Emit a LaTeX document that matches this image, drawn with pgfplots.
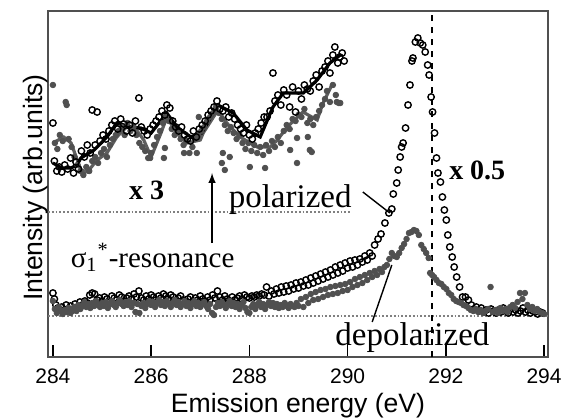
\documentclass[border=0pt]{standalone}
\usepackage{fontspec}
\setmainfont{Liberation Serif}
\newfontfamily\arialfont{Liberation Sans}
\usepackage{pgfplots}
\pgfplotsset{compat=1.18}
\definecolor{dgray}{HTML}{505050}
\definecolor{lgray}{HTML}{5E5E5E}

\begin{document}
\begin{tikzpicture}
\begin{axis}[
    scale only axis,
    width=250pt, height=173pt,
    xmin=283.9, xmax=294.08,
    ymin=0, ymax=346,
    xtick={284,286,288,290,292,294},
    ytick=\empty,
    xtick pos=bottom,
    tick align=inside,
    major tick length=6pt,
    tick style={line width=0.8pt, black},
    axis line style={line width=1pt, dgray},
    /pgf/number format/assume math mode=true,
    xticklabel style={font=\arialfont\fontsize{10.5}{12}\selectfont, inner sep=0pt, yshift=-5.5pt},
    xlabel={Emission energy (eV)},
    ylabel={Intensity (arb.units)},
    label style={font=\arialfont\fontsize{13.3}{15}\selectfont, inner sep=0pt},
    xlabel style={at={(axis description cs:0.5,0)}, anchor=north, yshift=-18pt},
    ylabel style={at={(axis description cs:0,0.5)}, anchor=south, xshift=-1.7pt},
    clip=false,
]
% reference lines
\addplot[densely dotted, line width=0.9pt, gray] coordinates {(283.9,41)(294.08,41)};
\addplot[densely dotted, line width=0.9pt, gray] coordinates {(283.9,145)(290.05,145)};
\addplot[dashed, line width=0.7pt, black] coordinates {(291.72,0)(291.72,346)};

% lower spectrum, polarized (open circles)
\addplot[only marks, mark=o, mark size=1.6pt, mark options={fill=white, line width=0.7pt}, black] coordinates {
(284.00,64)(284.03,58)(284.06,52)(284.10,49)(284.14,47)(284.18,50)(284.22,46)(284.27,52)(284.31,48)(284.36,51)
(284.40,47)(284.45,53)(284.50,50)(284.55,55)(284.60,52)(284.65,56)(284.70,54)(284.75,62)(284.80,64)(284.85,63)
(284.90,57)(284.95,59)(285.00,56)(285.05,60)(285.10,58)(285.15,55)(285.20,61)(285.25,59)(285.30,57)(285.35,62)
(285.40,60)(285.45,56)(285.50,59)(285.55,61)(285.60,58)(285.65,63)(285.70,60)(285.75,66)(285.80,59)(285.85,57)
(285.90,61)(285.95,58)(286.00,62)(286.05,60)(286.10,57)(286.15,61)(286.20,59)(286.25,63)(286.30,61)(286.35,58)
(286.40,62)(286.45,60)(286.50,56)(286.55,59)(286.60,61)(286.65,57)(286.70,55)(286.75,58)(286.80,60)(286.85,56)
(286.90,59)(286.95,57)(287.00,61)(287.05,58)(287.10,56)(287.15,60)(287.20,57)(287.25,62)(287.30,59)(287.35,66)
(287.40,60)(287.45,57)(287.50,61)(287.55,58)(287.60,56)(287.65,60)(287.70,57)(287.75,59)(287.80,61)(287.85,58)
(287.90,62)(287.95,60)(288.00,59)(288.05,61)(288.10,60)(288.15,62)(288.20,61)(288.25,63)(288.30,62)(288.35,70)
(288.40,61)(288.45,66)(288.50,63)(288.55,68)(288.60,64)(288.65,70)(288.70,65)(288.75,71)(288.80,66)(288.85,72)
(288.90,68)(288.95,74)(289.00,69)(289.05,75)(289.10,71)(289.15,77)(289.20,72)(289.25,79)(289.30,74)(289.35,81)
(289.40,76)(289.45,83)(289.50,78)(289.55,85)(289.60,80)(289.65,87)(289.70,82)(289.75,90)(289.80,84)(289.85,92)
(289.90,86)(289.95,94)(290.00,89)(290.05,96)(290.10,90)(290.15,97)(290.20,92)(290.25,98)(290.30,95)(290.35,101)
(290.40,97)(290.45,104)(290.50,101)(290.55,112)(290.62,118)(290.68,123)(290.76,134)(290.84,144)(290.90,148)(290.93,163)
(291.00,174)(291.03,187)(291.07,200)(291.10,210)(291.13,214)(291.18,229)(291.23,252)(291.27,272)(291.31,296)(291.33,299)
(291.38,315)(291.43,319)(291.48,314)(291.53,312)(291.58,305)(291.63,292)(291.66,282)(291.70,260)(291.73,245)(291.77,224)
(291.81,199)(291.84,184)(291.89,175)(291.93,160)(291.97,147)(292.01,137)(292.04,122)(292.08,110)(292.13,100)(292.17,90)
(292.22,80)(292.28,70)(292.34,60)(292.40,60)(292.46,57)(292.52,52)(292.57,48)(292.62,50)(292.67,46)(292.72,49)
(292.77,45)(292.82,47)(292.87,44)(292.92,48)(292.97,46)(293.02,44)(293.07,47)(293.12,45)(293.17,49)(293.22,46)
(293.27,44)(293.32,48)(293.37,45)(293.42,47)(293.47,44)(293.52,46)(293.57,49)(293.62,45)(293.67,47)(293.72,44)
(293.77,46)(293.82,45)(293.87,43)(293.92,45)(293.97,44)
};

% lower spectrum, depolarized (grey dots)
\addplot[only marks, mark=*, mark size=1.4pt, dgray] coordinates {
(284.00,56)(284.04,48)(284.08,44)(284.12,50)(284.16,46)(284.20,43)(284.24,47)(284.28,45)(284.32,49)(284.36,44)
(284.40,47)(284.44,50)(284.48,46)(284.52,52)(284.56,48)(284.60,51)(284.64,55)(284.68,50)(284.72,53)(284.76,49)
(284.80,54)(284.84,51)(284.88,56)(284.92,52)(284.96,50)(285.00,54)(285.04,51)(285.08,55)(285.12,49)(285.16,53)
(285.20,56)(285.24,52)(285.28,50)(285.32,54)(285.36,57)(285.40,53)(285.44,51)(285.48,55)(285.52,52)(285.56,56)
(285.60,50)(285.64,54)(285.68,45)(285.72,53)(285.76,44)(285.80,51)(285.84,54)(285.88,49)(285.92,53)(285.96,56)
(286.00,52)(286.04,55)(286.08,50)(286.12,54)(286.16,57)(286.20,52)(286.24,55)(286.28,51)(286.32,56)(286.36,53)
(286.40,50)(286.44,54)(286.48,57)(286.52,52)(286.56,55)(286.60,50)(286.64,53)(286.68,56)(286.72,51)(286.76,54)
(286.80,49)(286.84,53)(286.88,56)(286.92,51)(286.96,54)(287.00,50)(287.04,53)(287.08,55)(287.12,51)(287.16,48)
(287.20,53)(287.24,44)(287.28,42)(287.32,50)(287.36,54)(287.40,51)(287.44,55)(287.48,52)(287.52,49)(287.56,53)
(287.60,56)(287.64,51)(287.68,54)(287.72,50)(287.76,53)(287.80,48)(287.84,52)(287.88,55)(287.92,49)(287.96,45)
(288.00,44)(288.04,50)(288.08,53)(288.12,48)(288.16,52)(288.20,55)(288.24,50)(288.28,53)(288.32,48)(288.36,52)
(288.40,55)(288.44,51)(288.48,54)(288.52,50)(288.56,53)(288.60,49)(288.64,52)(288.68,50)(288.72,54)(288.76,51)
(288.80,49)(288.84,53)(288.88,51)(288.92,50)(288.96,54)(289.00,51)(289.05,58)(289.10,50)(289.15,60)(289.20,54)
(289.25,63)(289.30,57)(289.35,65)(289.40,58)(289.45,67)(289.50,60)(289.55,68)(289.60,62)(289.65,70)(289.70,63)
(289.75,71)(289.80,64)(289.85,72)(289.90,66)(289.95,73)(290.00,67)(290.05,75)(290.10,70)(290.15,78)(290.20,72)
(290.25,80)(290.30,74)(290.35,82)(290.40,77)(290.45,84)(290.50,80)(290.55,86)(290.60,82)(290.65,88)(290.70,85)
(290.75,90)(290.80,92)(290.85,98)(290.90,104)(290.95,101)(291.00,100)(291.05,104)(291.10,109)(291.15,113)(291.20,118)
(291.25,124)(291.30,125)(291.35,127)(291.40,126)(291.45,122)(291.50,112)(291.55,108)(291.60,104)(291.65,99)(291.68,84)
(291.72,82)(291.76,80)(291.81,77)(291.86,74)(291.91,73)(291.96,70)(292.01,68)(292.06,64)(292.11,62)(292.16,58)
(292.21,56)(292.26,55)(292.31,54)(292.36,52)(292.41,51)(292.46,49)(292.51,47)(292.56,46)(292.61,48)(292.66,45)
(292.71,47)(292.76,44)(292.81,46)(292.86,48)(292.91,70)(292.96,45)(293.01,47)(293.06,44)(293.11,49)(293.16,46)
(293.21,48)(293.26,45)(293.31,50)(293.36,52)(293.41,49)(293.46,55)(293.51,64)(293.56,58)(293.61,64)(293.66,52)
(293.71,48)(293.76,50)(293.81,46)(293.86,48)(293.91,45)(293.96,44)(294.00,43)
};

% upper spectrum (x 3), depolarized dots
\addplot[only marks, mark=*, mark size=1.4pt, dgray] coordinates {
(284.00,272)(284.04,214)(284.09,208)(284.14,222)(284.20,216)(284.26,255)(284.28,252)(284.32,218)(284.38,210)(284.44,200)
(284.50,192)(284.56,186)(284.62,182)(284.68,190)(284.74,186)(284.80,196)(284.86,200)(284.92,194)(284.98,204)(285.04,208)
(285.10,200)(285.16,212)(285.22,218)(285.28,222)(285.34,226)(285.40,230)(285.46,222)(285.52,234)(285.58,226)(285.64,230)
(285.70,222)(285.76,214)(285.82,210)(285.88,206)(285.94,199)(286.00,204)(286.06,212)(286.12,220)(286.18,226)(286.24,234)
(286.30,240)(286.36,236)(286.42,228)(286.48,222)(286.54,226)(286.60,218)(286.66,212)(286.72,216)(286.78,204)(286.84,210)
(286.90,218)(286.96,222)(287.02,226)(287.08,230)(287.14,236)(287.20,240)(287.26,244)(287.32,250)(287.38,244)(287.44,238)
(287.50,232)(287.56,226)(287.62,230)(287.68,224)(287.74,218)(287.80,222)(287.86,214)(287.92,208)(287.98,214)(288.04,206)
(288.10,212)(288.16,204)(288.22,210)(288.28,202)(288.34,212)(288.40,206)(288.46,216)(288.52,210)(288.58,220)(288.64,214)
(288.70,226)(288.76,232)(288.82,228)(288.88,238)(288.94,236)(289.00,242)(289.06,240)(289.12,248)(289.18,234)(289.24,238)
(289.30,232)(289.36,240)(289.42,246)(289.48,252)(289.54,258)(289.58,266)(289.64,255)(289.70,272)(289.76,262)(289.82,254)
(285.98,199)(286.26,199)(286.67,204)(286.97,240)(286.93,204)(286.28,209)(287.44,194)(287.46,204)(287.50,187)(287.60,200)
(288.01,190)(288.32,189)(288.83,207)(288.97,219)(289.19,220)(289.23,207)(288.97,194)(289.78,255)(289.85,254)(289.27,205)
};

% upper spectrum (x 3), polarized circles
\addplot[only marks, mark=o, mark size=1.6pt, mark options={fill=white, line width=0.7pt}, black] coordinates {
(284.00,234)(284.03,196)(284.08,186)(284.13,190)(284.18,185)(284.24,192)(284.30,188)(284.36,199)(284.42,184)(284.47,195)
(284.52,188)(284.58,206)(284.64,200)(284.70,212)(284.76,204)(284.80,247)(284.86,212)(284.90,245)(284.96,216)(285.02,222)
(285.08,218)(285.14,226)(285.20,232)(285.26,236)(285.32,228)(285.38,238)(285.44,233)(285.50,226)(285.56,232)(285.62,224)
(285.68,236)(285.75,259)(285.80,230)(285.86,226)(285.92,222)(285.98,228)(286.04,232)(286.10,236)(286.16,240)(286.22,246)
(286.28,242)(286.32,252)(286.38,249)(286.44,236)(286.50,230)(286.56,226)(286.62,230)(286.68,222)(286.74,218)(286.80,216)
(286.86,226)(286.92,220)(286.98,228)(287.04,232)(287.10,236)(287.16,242)(287.22,246)(287.28,250)(287.34,256)(287.40,248)
(287.46,246)(287.52,250)(287.58,240)(287.64,244)(287.70,238)(287.76,232)(287.82,228)(287.88,224)(287.94,232)(288.00,222)
(288.06,218)(288.12,224)(288.18,228)(288.24,234)(288.30,240)(288.36,240)(288.42,246)(288.48,284)(288.52,256)(288.58,262)
(288.64,252)(288.70,267)(288.76,262)(288.82,250)(288.88,270)(288.94,245)(289.00,266)(289.06,258)(289.12,272)(289.18,268)
(289.24,266)(289.30,276)(289.36,282)(289.42,270)(289.48,286)(289.54,290)(289.60,296)(289.64,284)(289.70,302)(289.74,310)
(289.80,294)(289.84,300)(289.89,304)(289.93,296)
};

% smoothed curves of upper spectra
\addplot[lgray, line width=1.6pt] coordinates {
(284.00,214)(284.22,220)(284.37,214)(284.57,187)(284.70,185)(284.90,197)(285.10,204)(285.30,220)(285.50,230)(285.70,227)
(285.85,217)(286.00,200)(286.20,224)(286.32,240)(286.52,224)(286.73,214)(287.00,217)(287.06,224)(287.36,247)(287.54,234)
(287.81,220)(288.16,210)(288.42,210)(288.57,217)(288.77,230)(289.09,245)(289.38,237)(289.50,254)(289.70,274)
};
\addplot[black, line width=1.6pt] coordinates {
(284.00,194)(284.18,189)(284.37,189)(284.49,192)(284.57,199)(284.84,207)(285.10,220)(285.30,234)(285.59,230)(285.79,229)
(286.00,224)(286.32,244)(286.52,230)(286.81,220)(287.03,224)(287.36,252)(287.67,244)(287.95,227)(288.22,220)(288.48,250)
(288.69,264)(288.98,264)(289.10,264)(289.38,277)(289.64,294)(289.85,302)
};

% annotations
\node[font=\bfseries\fontsize{14}{16}\selectfont, anchor=base] at (axis cs:285.91,158) {x 3};
\node[font=\bfseries\fontsize{14}{16}\selectfont, anchor=base] at (axis cs:292.64,178) {x 0.5};
\node[font=\fontsize{16.5}{18}\selectfont, anchor=base] at (axis cs:288.83,150) {polarized};
\node[font=\fontsize{16.5}{18}\selectfont, anchor=base] at (axis cs:291.32,12) {depolarized};
\node[font=\fontsize{14.5}{16}\selectfont, anchor=base] at (axis cs:286.03,90) {σ\textsubscript{1}\textsuperscript{*}-resonance};
\draw[-latex, line width=0.7pt] (axis cs:287.24,114) -- (axis cs:287.24,184);
\draw[line width=0.7pt] (axis cs:290.31,165) -- (axis cs:290.86,144);
\draw[line width=0.7pt] (axis cs:290.50,35) -- (axis cs:290.90,92);
\end{axis}
\path (current axis.south west) ++(-24pt,-30.5pt) rectangle ([xshift=7pt,yshift=5.5pt]current axis.north east);
\end{tikzpicture}
\end{document}
